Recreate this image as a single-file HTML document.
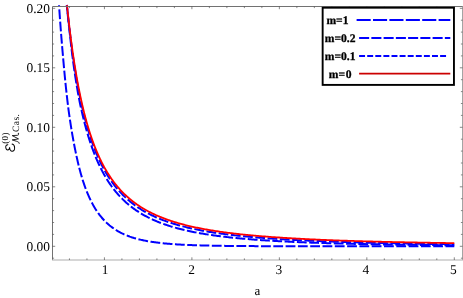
<!DOCTYPE html>
<html><head><meta charset="utf-8"><title>plot</title>
<style>html,body{margin:0;padding:0;background:#fff;}body{width:463px;height:298px;position:relative;overflow:hidden;font-family:"Liberation Serif",serif;}</style></head>
<body>
<svg width="463" height="298" viewBox="0 0 463 298" style="position:absolute;left:0;top:0;text-rendering:geometricPrecision;will-change:transform">
<rect width="463" height="298" fill="#fff"/>
<g fill="none" stroke-width="2" stroke-linecap="butt" stroke-linejoin="round">
<path d="M59.03 5.20 L59.03 5.24 L59.04 5.35 L59.05 5.53 L59.07 5.79 L59.09 6.12 L59.12 6.53 L59.15 7.01 L59.19 7.56 L59.23 8.18 L59.28 8.87 L59.33 9.63 L59.39 10.47 L59.45 11.36 L59.52 12.33 L59.59 13.36 L59.66 14.46 L59.75 15.62 L59.83 16.84 L59.92 18.13 L60.02 19.47 L60.12 20.87 L60.23 22.33 L60.34 23.85 L60.46 25.41 L60.58 27.03 L60.70 28.70 L60.84 30.42 L60.97 32.18 L61.11 33.99 L61.26 35.84 L61.41 37.74 L61.57 39.67 L61.73 41.64 L61.89 43.65 L62.06 45.69 L62.24 47.77 L62.42 49.87 L62.61 52.01 L62.80 54.17 L62.99 56.35 L63.19 58.56 L63.39 60.79 L63.59 63.04 L63.79 65.30 L63.99 67.59 L64.20 69.88 L64.41 72.19 L64.63 74.51 L64.86 76.84 L65.08 79.18 L65.32 81.53 L65.56 83.88 L65.80 86.23 L66.05 88.58 L66.30 90.93 L66.56 93.29 L66.82 95.64 L67.09 97.98 L67.36 100.32 L67.64 102.66 L67.93 104.98 L68.21 107.30 L68.51 109.61 L68.82 111.91 L69.14 114.19 L69.46 116.46 L69.79 118.72 L70.13 120.96 L70.47 123.19 L70.81 125.40 L71.16 127.60 L71.51 129.77 L71.87 131.93 L72.23 134.07 L72.60 136.18 L72.98 138.28 L73.36 140.36 L73.74 142.41 L74.13 144.44 L74.52 146.45 L74.92 148.43 L75.32 150.40 L75.71 152.34 L76.11 154.25 L76.51 156.14 L76.92 158.00 L77.33 159.84 L77.75 161.66 L78.17 163.45 L78.60 165.21 L79.03 166.95 L79.47 168.67 L79.91 170.35 L80.36 172.02 L80.82 173.65 L81.28 175.26 L81.74 176.85 L82.21 178.41 L82.68 179.94 L83.16 181.45 L83.65 182.93 L84.14 184.39 L84.64 185.82 L85.14 187.23 L85.66 188.61 L86.17 189.96 L86.70 191.29 L87.23 192.60 L87.76 193.88 L88.30 195.14 L88.84 196.38 L89.39 197.59 L89.94 198.78 L90.50 199.94 L91.06 201.08 L91.63 202.20 L92.20 203.30 L92.78 204.37 L93.36 205.42 L93.95 206.45 L94.54 207.46 L95.14 208.45 L95.75 209.42 L96.35 210.36 L96.97 211.29 L97.59 212.20 L98.21 213.08 L98.84 213.95 L99.47 214.80 L100.11 215.63 L100.76 216.44 L101.41 217.23 L102.06 218.00 L102.72 218.76 L103.39 219.50 L104.06 220.22 L104.74 220.93 L105.42 221.62 L106.10 222.29 L106.79 222.95 L107.49 223.59 L108.19 224.21 L108.89 224.82 L109.60 225.42 L110.32 226.00 L111.04 226.57 L111.77 227.12 L112.50 227.66 L113.23 228.19 L113.97 228.70 L114.72 229.20 L115.47 229.69 L116.22 230.17 L116.98 230.63 L117.75 231.08 L118.52 231.52 L119.29 231.95 L120.07 232.37 L120.85 232.78 L121.64 233.18 L122.44 233.56 L123.24 233.94 L124.04 234.30 L124.85 234.66 L125.67 235.01 L126.49 235.34 L127.31 235.67 L128.14 235.99 L128.97 236.30 L129.81 236.61 L130.66 236.90 L131.50 237.19 L132.36 237.46 L133.22 237.73 L134.08 238.00 L134.95 238.25 L135.82 238.50 L136.70 238.74 L137.59 238.98 L138.47 239.21 L139.37 239.43 L140.27 239.64 L141.17 239.85 L142.08 240.06 L142.99 240.25 L143.91 240.45 L144.83 240.63 L145.76 240.81 L146.69 240.99 L147.63 241.16 L148.58 241.32 L149.52 241.48 L150.48 241.64 L151.43 241.79 L152.40 241.94 L153.36 242.08 L154.34 242.22 L155.32 242.35 L156.30 242.48 L157.29 242.61 L158.28 242.73 L159.28 242.85 L160.28 242.96 L161.29 243.07 L162.30 243.18 L163.31 243.29 L164.34 243.39 L165.36 243.49 L166.40 243.58 L167.43 243.67 L168.48 243.76 L169.52 243.85 L170.57 243.93 L171.63 244.01 L172.69 244.09 L173.76 244.17 L174.83 244.24 L175.91 244.31 L176.99 244.38 L178.08 244.45 L179.17 244.51 L180.26 244.57 L181.37 244.63 L182.47 244.69 L183.58 244.75 L184.70 244.80 L185.82 244.86 L186.95 244.91 L188.08 244.96 L189.21 245.01 L190.36 245.05 L191.50 245.10 L192.65 245.14 L193.81 245.18 L194.97 245.22 L196.13 245.26 L197.31 245.30 L198.48 245.33 L199.66 245.37 L200.85 245.40 L202.04 245.44 L203.23 245.47 L204.43 245.50 L205.64 245.53 L206.85 245.56 L208.06 245.58 L209.28 245.61 L210.51 245.64 L211.74 245.66 L212.98 245.68 L214.22 245.71 L215.46 245.73 L216.71 245.75 L217.96 245.77 L219.22 245.79 L220.49 245.81 L221.76 245.83 L223.03 245.85 L224.31 245.86 L225.60 245.88 L226.89 245.90 L228.18 245.91 L229.48 245.93 L230.79 245.94 L232.10 245.96 L233.41 245.97 L234.73 245.98 L236.05 245.99 L237.38 246.01 L238.72 246.02 L240.06 246.03 L241.40 246.04 L242.75 246.05 L244.10 246.06 L245.46 246.07 L246.82 246.08 L248.19 246.09 L249.57 246.10 L250.95 246.10 L252.33 246.11 L253.72 246.12 L255.11 246.13 L256.51 246.13 L257.91 246.14 L259.32 246.15 L260.73 246.15 L262.15 246.16 L263.58 246.16 L265.00 246.17 L266.44 246.18 L267.88 246.18 L269.32 246.19 L270.77 246.19 L272.22 246.19 L273.68 246.20 L275.14 246.20 L276.61 246.21 L278.08 246.21 L279.56 246.21 L281.04 246.22 L282.53 246.22 L284.02 246.22 L285.52 246.23 L287.02 246.23 L288.53 246.23 L290.04 246.24 L291.56 246.24 L293.08 246.24 L294.61 246.24 L296.14 246.25 L297.68 246.25 L299.22 246.25 L300.76 246.25 L302.32 246.26 L303.87 246.26 L305.44 246.26 L307.00 246.26 L308.57 246.26 L310.15 246.26 L311.73 246.27 L313.32 246.27 L314.91 246.27 L316.51 246.27 L318.11 246.27 L319.71 246.27 L321.33 246.27 L322.94 246.28 L324.56 246.28 L326.19 246.28 L327.82 246.28 L329.46 246.28 L331.10 246.28 L332.74 246.28 L334.39 246.28 L336.05 246.28 L337.71 246.28 L339.38 246.28 L341.05 246.28 L342.72 246.29 L344.40 246.29 L346.09 246.29 L347.78 246.29 L349.47 246.29 L351.18 246.29 L352.88 246.29 L354.59 246.29 L356.31 246.29 L358.03 246.29 L359.75 246.29 L361.48 246.29 L363.22 246.29 L364.96 246.29 L366.70 246.29 L368.45 246.29 L370.21 246.29 L371.97 246.29 L373.73 246.29 L375.50 246.29 L377.28 246.29 L379.05 246.29 L380.84 246.29 L382.63 246.30 L384.42 246.30 L386.22 246.30 L388.03 246.30 L389.84 246.30 L391.65 246.30 L393.47 246.30 L395.29 246.30 L397.12 246.30 L398.96 246.30 L400.80 246.30 L402.64 246.30 L404.49 246.30 L406.34 246.30 L408.20 246.30 L410.07 246.30 L411.93 246.30 L413.81 246.30 L415.69 246.30 L417.57 246.30 L419.46 246.30 L421.35 246.30 L423.25 246.30 L425.15 246.30 L427.06 246.30 L428.98 246.30 L430.89 246.30 L432.82 246.30 L434.74 246.30 L436.68 246.30 L438.62 246.30 L440.56 246.30 L442.51 246.30 L444.46 246.30 L446.42 246.30 L448.38 246.30 L450.35 246.30 L452.32 246.30 L454.30 246.30" stroke="#0000ff" stroke-dasharray="9.8 2.5" stroke-dashoffset="8.1"/>
<path d="M66.78 5.20 L66.79 5.22 L66.79 5.30 L66.81 5.42 L66.82 5.59 L66.84 5.82 L66.87 6.09 L66.90 6.40 L66.94 6.77 L66.98 7.19 L67.03 7.65 L67.08 8.16 L67.13 8.71 L67.19 9.32 L67.26 9.96 L67.33 10.66 L67.41 11.39 L67.49 12.18 L67.57 13.00 L67.66 13.87 L67.75 14.78 L67.85 15.73 L67.96 16.72 L68.07 17.75 L68.18 18.81 L68.30 19.92 L68.42 21.06 L68.55 22.24 L68.69 23.46 L68.83 24.70 L68.97 25.99 L69.12 27.30 L69.27 28.64 L69.43 30.02 L69.57 31.42 L69.72 32.85 L69.88 34.31 L70.04 35.80 L70.21 37.30 L70.37 38.84 L70.55 40.39 L70.73 41.97 L70.91 43.57 L71.10 45.19 L71.29 46.83 L71.49 48.48 L71.69 50.15 L71.90 51.84 L72.11 53.54 L72.32 55.26 L72.54 56.99 L72.77 58.73 L73.00 60.48 L73.23 62.24 L73.47 64.01 L73.72 65.78 L73.97 67.57 L74.22 69.36 L74.48 71.15 L74.74 72.95 L75.01 74.75 L75.28 76.56 L75.56 78.36 L75.84 80.17 L76.13 81.98 L76.42 83.79 L76.72 85.59 L77.02 87.40 L77.33 89.20 L77.64 90.99 L77.96 92.79 L78.28 94.58 L78.61 96.36 L78.94 98.14 L79.28 99.91 L79.64 101.68 L80.00 103.44 L80.37 105.19 L80.75 106.93 L81.13 108.66 L81.52 110.38 L81.91 112.09 L82.30 113.80 L82.70 115.49 L83.11 117.17 L83.52 118.84 L83.93 120.50 L84.35 122.15 L84.78 123.78 L85.21 125.40 L85.64 127.01 L86.08 128.61 L86.53 130.19 L86.97 131.76 L87.43 133.31 L87.89 134.85 L88.35 136.38 L88.82 137.89 L89.29 139.39 L89.77 140.88 L90.25 142.34 L90.74 143.80 L91.23 145.24 L91.73 146.66 L92.23 148.07 L92.74 149.47 L93.25 150.85 L93.77 152.21 L94.29 153.56 L94.82 154.89 L95.35 156.21 L95.89 157.52 L96.43 158.81 L96.97 160.08 L97.52 161.34 L98.08 162.58 L98.64 163.81 L99.21 165.02 L99.78 166.22 L100.35 167.40 L100.93 168.57 L101.52 169.72 L102.11 170.86 L102.70 171.98 L103.30 173.09 L103.91 174.19 L104.51 175.27 L105.13 176.33 L105.75 177.38 L106.37 178.42 L107.00 179.44 L107.63 180.45 L108.27 181.45 L108.91 182.43 L109.56 183.40 L110.22 184.35 L110.87 185.29 L111.54 186.22 L112.20 187.14 L112.88 188.04 L113.55 188.93 L114.23 189.81 L114.92 190.67 L115.61 191.52 L116.31 192.36 L117.01 193.19 L117.72 194.00 L118.43 194.81 L119.14 195.60 L119.86 196.38 L120.59 197.15 L121.32 197.90 L122.06 198.65 L122.80 199.38 L123.54 200.11 L124.29 200.82 L125.05 201.52 L125.81 202.22 L126.57 202.90 L127.34 203.57 L128.11 204.23 L128.89 204.88 L129.68 205.52 L130.47 206.15 L131.26 206.77 L132.06 207.39 L132.86 207.99 L133.67 208.58 L134.48 209.17 L135.30 209.74 L136.12 210.31 L136.95 210.87 L137.78 211.42 L138.62 211.96 L139.46 212.49 L140.31 213.02 L141.16 213.53 L142.02 214.04 L142.88 214.54 L143.75 215.03 L144.62 215.52 L145.49 216.00 L146.37 216.47 L147.26 216.93 L148.15 217.39 L149.05 217.83 L149.95 218.28 L150.85 218.71 L151.76 219.14 L152.68 219.56 L153.60 219.97 L154.52 220.38 L155.45 220.78 L156.39 221.18 L157.33 221.57 L158.27 221.95 L159.22 222.33 L160.17 222.70 L161.13 223.06 L162.09 223.42 L163.06 223.78 L164.04 224.13 L165.01 224.47 L166.00 224.81 L166.98 225.14 L167.98 225.46 L168.97 225.79 L169.98 226.10 L170.98 226.42 L172.00 226.72 L173.01 227.02 L174.03 227.32 L175.06 227.61 L176.09 227.90 L177.13 228.19 L178.17 228.47 L179.22 228.74 L180.27 229.01 L181.32 229.28 L182.38 229.54 L183.45 229.80 L184.52 230.05 L185.59 230.30 L186.67 230.55 L187.76 230.79 L188.85 231.03 L189.94 231.26 L191.04 231.49 L192.15 231.72 L193.26 231.94 L194.37 232.16 L195.49 232.38 L196.61 232.60 L197.74 232.81 L198.87 233.01 L200.01 233.22 L201.16 233.42 L202.30 233.61 L203.46 233.81 L204.61 234.00 L205.78 234.19 L206.94 234.37 L208.12 234.56 L209.29 234.73 L210.48 234.91 L211.66 235.09 L212.85 235.26 L214.05 235.43 L215.25 235.59 L216.46 235.76 L217.67 235.92 L218.89 236.08 L220.11 236.23 L221.33 236.38 L222.56 236.54 L223.80 236.69 L225.04 236.83 L226.28 236.98 L227.53 237.12 L228.79 237.26 L230.05 237.40 L231.31 237.53 L232.58 237.67 L233.85 237.80 L235.13 237.93 L236.42 238.05 L237.71 238.18 L239.00 238.30 L240.30 238.42 L241.60 238.54 L242.91 238.66 L244.22 238.78 L245.54 238.89 L246.86 239.01 L248.19 239.12 L249.52 239.23 L250.86 239.33 L252.20 239.44 L253.55 239.54 L254.90 239.65 L256.26 239.75 L257.62 239.85 L258.99 239.94 L260.36 240.04 L261.73 240.14 L263.11 240.23 L264.50 240.32 L265.89 240.41 L267.29 240.50 L268.69 240.59 L270.09 240.68 L271.50 240.76 L272.92 240.85 L274.34 240.93 L275.76 241.01 L277.19 241.09 L278.62 241.17 L280.06 241.25 L281.51 241.33 L282.96 241.40 L284.41 241.48 L285.87 241.55 L287.33 241.62 L288.80 241.69 L290.27 241.76 L291.75 241.83 L293.24 241.90 L294.72 241.97 L296.22 242.03 L297.71 242.10 L299.22 242.16 L300.72 242.22 L302.23 242.28 L303.75 242.35 L305.27 242.41 L306.80 242.47 L308.33 242.52 L309.87 242.58 L311.41 242.64 L312.95 242.69 L314.50 242.75 L316.06 242.80 L317.62 242.86 L319.19 242.91 L320.76 242.96 L322.33 243.01 L323.91 243.06 L325.50 243.11 L327.09 243.16 L328.68 243.21 L330.28 243.25 L331.88 243.30 L333.49 243.35 L335.11 243.39 L336.73 243.43 L338.35 243.48 L339.98 243.52 L341.61 243.56 L343.25 243.61 L344.89 243.65 L346.54 243.69 L348.19 243.73 L349.85 243.77 L351.51 243.81 L353.18 243.84 L354.85 243.88 L356.53 243.92 L358.21 243.95 L359.90 243.99 L361.59 244.03 L363.29 244.06 L364.99 244.09 L366.69 244.13 L368.41 244.16 L370.12 244.19 L371.84 244.23 L373.57 244.26 L375.30 244.29 L377.03 244.32 L378.77 244.35 L380.52 244.38 L382.27 244.41 L384.02 244.44 L385.78 244.47 L387.55 244.50 L389.32 244.52 L391.09 244.55 L392.87 244.58 L394.65 244.61 L396.44 244.63 L398.24 244.66 L400.03 244.68 L401.84 244.71 L403.64 244.73 L405.46 244.76 L407.28 244.78 L409.10 244.80 L410.93 244.83 L412.76 244.85 L414.60 244.87 L416.44 244.89 L418.28 244.92 L420.14 244.94 L421.99 244.96 L423.85 244.98 L425.72 245.00 L427.59 245.02 L429.47 245.04 L431.35 245.06 L433.23 245.08 L435.12 245.10 L437.02 245.12 L438.92 245.13 L440.83 245.15 L442.74 245.17 L444.65 245.19 L446.57 245.21 L448.50 245.22 L450.42 245.24 L452.36 245.26 L454.30 245.27" stroke="#0000ff" stroke-dasharray="9.8 2.5" stroke-dashoffset="4.9"/>
<path d="M66.85 5.20 L66.86 5.22 L66.86 5.30 L66.88 5.41 L66.89 5.58 L66.92 5.79 L66.94 6.05 L66.97 6.36 L67.01 6.71 L67.05 7.11 L67.10 7.56 L67.15 8.05 L67.20 8.59 L67.26 9.17 L67.33 9.79 L67.40 10.46 L67.47 11.17 L67.55 11.93 L67.64 12.72 L67.73 13.56 L67.82 14.44 L67.92 15.35 L68.03 16.31 L68.14 17.30 L68.25 18.33 L68.37 19.40 L68.49 20.50 L68.62 21.64 L68.75 22.82 L68.89 24.02 L69.04 25.26 L69.18 26.53 L69.34 27.83 L69.49 29.15 L69.65 30.51 L69.82 31.90 L69.98 33.31 L70.16 34.74 L70.34 36.20 L70.52 37.69 L70.70 39.19 L70.90 40.72 L71.09 42.27 L71.29 43.84 L71.50 45.42 L71.71 47.03 L71.93 48.65 L72.15 50.28 L72.37 51.93 L72.60 53.60 L72.84 55.27 L73.08 56.96 L73.32 58.66 L73.57 60.37 L73.83 62.09 L74.09 63.81 L74.35 65.54 L74.62 67.28 L74.89 69.03 L75.17 70.78 L75.46 72.53 L75.74 74.28 L76.04 76.04 L76.33 77.80 L76.64 79.56 L76.94 81.32 L77.26 83.08 L77.57 84.84 L77.90 86.60 L78.22 88.35 L78.55 90.10 L78.89 91.84 L79.23 93.59 L79.58 95.32 L79.93 97.05 L80.29 98.78 L80.65 100.49 L81.02 102.20 L81.39 103.91 L81.78 105.60 L82.16 107.29 L82.55 108.96 L82.95 110.63 L83.35 112.29 L83.75 113.93 L84.16 115.57 L84.57 117.20 L84.99 118.81 L85.42 120.41 L85.85 122.01 L86.28 123.59 L86.72 125.15 L87.16 126.71 L87.61 128.25 L88.06 129.78 L88.52 131.29 L88.98 132.80 L89.45 134.28 L89.92 135.76 L90.40 137.22 L90.88 138.67 L91.37 140.10 L91.86 141.52 L92.36 142.93 L92.86 144.32 L93.37 145.69 L93.88 147.06 L94.39 148.40 L94.91 149.74 L95.44 151.06 L95.97 152.36 L96.51 153.65 L97.05 154.93 L97.59 156.19 L98.14 157.43 L98.70 158.66 L99.26 159.88 L99.82 161.08 L100.39 162.27 L100.96 163.45 L101.54 164.61 L102.13 165.75 L102.72 166.88 L103.31 168.00 L103.91 169.10 L104.51 170.19 L105.12 171.27 L105.73 172.33 L106.35 173.38 L106.97 174.41 L107.60 175.43 L108.23 176.44 L108.87 177.43 L109.51 178.41 L110.16 179.38 L110.81 180.33 L111.47 181.27 L112.13 182.20 L112.79 183.12 L113.46 184.02 L114.14 184.91 L114.82 185.79 L115.51 186.66 L116.20 187.51 L116.89 188.36 L117.59 189.19 L118.30 190.00 L119.01 190.81 L119.72 191.61 L120.44 192.39 L121.17 193.17 L121.90 193.93 L122.63 194.68 L123.37 195.42 L124.11 196.15 L124.86 196.87 L125.62 197.58 L126.37 198.28 L127.14 198.97 L127.90 199.65 L128.68 200.32 L129.46 200.98 L130.24 201.63 L131.03 202.27 L131.82 202.90 L132.61 203.52 L133.42 204.13 L134.22 204.73 L135.03 205.33 L135.85 205.91 L136.67 206.49 L137.50 207.06 L138.33 207.62 L139.17 208.17 L140.01 208.71 L140.85 209.25 L141.70 209.78 L142.56 210.29 L143.42 210.81 L144.28 211.31 L145.15 211.81 L146.03 212.30 L146.91 212.78 L147.79 213.25 L148.68 213.72 L149.57 214.18 L150.47 214.64 L151.38 215.08 L152.28 215.52 L153.20 215.96 L154.12 216.38 L155.04 216.80 L155.97 217.22 L156.90 217.63 L157.84 218.03 L158.78 218.43 L159.73 218.82 L160.68 219.20 L161.64 219.58 L162.60 219.95 L163.57 220.32 L164.54 220.68 L165.51 221.04 L166.49 221.39 L167.48 221.73 L168.47 222.08 L169.47 222.41 L170.47 222.74 L171.47 223.07 L172.48 223.39 L173.50 223.70 L174.52 224.02 L175.54 224.32 L176.57 224.63 L177.61 224.92 L178.65 225.22 L179.69 225.51 L180.74 225.79 L181.79 226.07 L182.85 226.35 L183.92 226.62 L184.99 226.89 L186.06 227.15 L187.14 227.41 L188.22 227.67 L189.31 227.92 L190.40 228.17 L191.50 228.42 L192.60 228.66 L193.71 228.90 L194.82 229.13 L195.94 229.36 L197.06 229.59 L198.18 229.81 L199.32 230.04 L200.45 230.25 L201.59 230.47 L202.74 230.68 L203.89 230.89 L205.05 231.09 L206.21 231.30 L207.37 231.50 L208.54 231.69 L209.72 231.89 L210.90 232.08 L212.08 232.27 L213.27 232.45 L214.47 232.64 L215.66 232.82 L216.87 232.99 L218.08 233.17 L219.29 233.34 L220.51 233.51 L221.73 233.68 L222.96 233.85 L224.20 234.01 L225.43 234.17 L226.68 234.33 L227.92 234.48 L229.18 234.64 L230.43 234.79 L231.70 234.94 L232.96 235.09 L234.24 235.23 L235.51 235.38 L236.79 235.52 L238.08 235.66 L239.37 235.79 L240.67 235.93 L241.97 236.06 L243.27 236.19 L244.59 236.32 L245.90 236.45 L247.22 236.58 L248.55 236.70 L249.88 236.83 L251.21 236.95 L252.55 237.07 L253.90 237.18 L255.25 237.30 L256.60 237.41 L257.96 237.53 L259.32 237.64 L260.69 237.75 L262.07 237.86 L263.44 237.96 L264.83 238.07 L266.22 238.17 L267.61 238.27 L269.01 238.38 L270.41 238.48 L271.82 238.57 L273.23 238.67 L274.65 238.77 L276.07 238.86 L277.50 238.95 L278.93 239.05 L280.36 239.14 L281.81 239.23 L283.25 239.31 L284.70 239.40 L286.16 239.49 L287.62 239.57 L289.09 239.65 L290.56 239.74 L292.03 239.82 L293.51 239.90 L295.00 239.98 L296.49 240.05 L297.98 240.13 L299.48 240.21 L300.99 240.28 L302.50 240.36 L304.01 240.43 L305.53 240.50 L307.05 240.57 L308.58 240.64 L310.12 240.71 L311.65 240.78 L313.20 240.85 L314.75 240.91 L316.30 240.98 L317.86 241.04 L319.42 241.11 L320.99 241.17 L322.56 241.23 L324.14 241.30 L325.72 241.36 L327.31 241.42 L328.90 241.48 L330.49 241.53 L332.10 241.59 L333.70 241.65 L335.31 241.70 L336.93 241.76 L338.55 241.81 L340.18 241.87 L341.81 241.92 L343.44 241.97 L345.08 242.03 L346.73 242.08 L348.38 242.13 L350.03 242.18 L351.69 242.23 L353.36 242.28 L355.02 242.32 L356.70 242.37 L358.38 242.42 L360.06 242.46 L361.75 242.51 L363.44 242.55 L365.14 242.60 L366.85 242.64 L368.55 242.69 L370.27 242.73 L371.98 242.77 L373.71 242.81 L375.43 242.85 L377.17 242.89 L378.90 242.94 L380.65 242.97 L382.39 243.01 L384.14 243.05 L385.90 243.09 L387.66 243.13 L389.43 243.17 L391.20 243.20 L392.98 243.24 L394.76 243.28 L396.54 243.31 L398.33 243.35 L400.13 243.38 L401.93 243.41 L403.73 243.45 L405.54 243.48 L407.36 243.51 L409.18 243.55 L411.00 243.58 L412.83 243.61 L414.66 243.64 L416.50 243.67 L418.35 243.70 L420.20 243.73 L422.05 243.76 L423.91 243.79 L425.77 243.82 L427.64 243.85 L429.51 243.88 L431.39 243.91 L433.27 243.94 L435.16 243.96 L437.05 243.99 L438.95 244.02 L440.85 244.04 L442.76 244.07 L444.67 244.09 L446.58 244.12 L448.51 244.15 L450.43 244.17 L452.36 244.19 L454.30 244.22" stroke="#0000ff" stroke-dasharray="9.8 2.5" stroke-dashoffset="1.3"/>
<path d="M66.97 5.20 L66.98 5.22 L66.98 5.29 L67.00 5.41 L67.01 5.57 L67.03 5.78 L67.06 6.04 L67.09 6.34 L67.13 6.69 L67.17 7.08 L67.22 7.52 L67.27 8.00 L67.32 8.53 L67.38 9.10 L67.45 9.71 L67.52 10.37 L67.59 11.07 L67.67 11.81 L67.76 12.59 L67.85 13.41 L67.94 14.27 L68.04 15.17 L68.15 16.11 L68.25 17.09 L68.37 18.10 L68.49 19.15 L68.61 20.24 L68.74 21.36 L68.87 22.51 L69.01 23.69 L69.15 24.91 L69.30 26.16 L69.45 27.43 L69.61 28.74 L69.77 30.08 L69.94 31.44 L70.11 32.82 L70.29 34.24 L70.47 35.67 L70.66 37.13 L70.85 38.62 L71.04 40.12 L71.24 41.64 L71.45 43.19 L71.66 44.75 L71.88 46.32 L72.10 47.92 L72.32 49.53 L72.55 51.15 L72.79 52.79 L73.03 54.44 L73.27 56.11 L73.52 57.78 L73.77 59.46 L74.03 61.15 L74.30 62.86 L74.57 64.56 L74.84 66.28 L75.12 68.00 L75.40 69.72 L75.69 71.45 L75.98 73.18 L76.28 74.91 L76.58 76.65 L76.89 78.38 L77.20 80.12 L77.52 81.86 L77.84 83.59 L78.17 85.32 L78.50 87.06 L78.84 88.78 L79.18 90.51 L79.52 92.23 L79.87 93.94 L80.23 95.65 L80.59 97.35 L80.96 99.05 L81.33 100.74 L81.70 102.42 L82.08 104.10 L82.47 105.76 L82.86 107.42 L83.25 109.07 L83.65 110.71 L84.05 112.34 L84.46 113.96 L84.88 115.56 L85.30 117.16 L85.72 118.75 L86.15 120.32 L86.58 121.89 L87.02 123.44 L87.46 124.98 L87.91 126.50 L88.36 128.02 L88.82 129.52 L89.28 131.01 L89.75 132.48 L90.22 133.95 L90.70 135.39 L91.18 136.83 L91.67 138.25 L92.16 139.66 L92.66 141.05 L93.16 142.43 L93.66 143.80 L94.17 145.15 L94.69 146.49 L95.21 147.81 L95.74 149.12 L96.27 150.41 L96.80 151.69 L97.34 152.96 L97.88 154.21 L98.43 155.45 L98.99 156.68 L99.55 157.89 L100.11 159.08 L100.68 160.26 L101.25 161.43 L101.83 162.58 L102.42 163.72 L103.00 164.85 L103.60 165.96 L104.20 167.06 L104.80 168.14 L105.41 169.21 L106.02 170.27 L106.64 171.31 L107.26 172.34 L107.88 173.36 L108.52 174.36 L109.15 175.35 L109.79 176.33 L110.44 177.29 L111.09 178.24 L111.75 179.18 L112.41 180.11 L113.08 181.02 L113.75 181.92 L114.42 182.81 L115.10 183.69 L115.79 184.55 L116.48 185.41 L117.17 186.25 L117.87 187.08 L118.58 187.90 L119.28 188.70 L120.00 189.50 L120.72 190.28 L121.44 191.06 L122.17 191.82 L122.90 192.57 L123.64 193.31 L124.38 194.04 L125.13 194.76 L125.89 195.47 L126.64 196.17 L127.41 196.86 L128.17 197.54 L128.95 198.21 L129.72 198.87 L130.50 199.52 L131.29 200.17 L132.08 200.80 L132.88 201.42 L133.68 202.04 L134.49 202.64 L135.30 203.24 L136.11 203.83 L136.93 204.40 L137.76 204.97 L138.59 205.54 L139.43 206.09 L140.27 206.64 L141.11 207.18 L141.96 207.71 L142.81 208.23 L143.67 208.74 L144.54 209.25 L145.41 209.75 L146.28 210.24 L147.16 210.73 L148.04 211.20 L148.93 211.68 L149.82 212.14 L150.72 212.60 L151.63 213.05 L152.53 213.49 L153.45 213.93 L154.36 214.36 L155.29 214.78 L156.21 215.20 L157.15 215.61 L158.08 216.02 L159.02 216.42 L159.97 216.81 L160.92 217.20 L161.88 217.59 L162.84 217.96 L163.80 218.33 L164.78 218.70 L165.75 219.06 L166.73 219.42 L167.72 219.77 L168.71 220.11 L169.70 220.45 L170.70 220.79 L171.71 221.12 L172.72 221.44 L173.73 221.76 L174.75 222.08 L175.77 222.39 L176.80 222.70 L177.84 223.00 L178.87 223.30 L179.92 223.59 L180.97 223.88 L182.02 224.17 L183.08 224.45 L184.14 224.72 L185.21 225.00 L186.28 225.27 L187.36 225.53 L188.44 225.79 L189.53 226.05 L190.62 226.30 L191.71 226.55 L192.82 226.80 L193.92 227.04 L195.03 227.28 L196.15 227.52 L197.27 227.75 L198.40 227.98 L199.53 228.21 L200.66 228.43 L201.80 228.65 L202.95 228.87 L204.10 229.08 L205.25 229.29 L206.41 229.50 L207.57 229.70 L208.74 229.90 L209.92 230.10 L211.10 230.30 L212.28 230.49 L213.47 230.68 L214.66 230.87 L215.86 231.06 L217.06 231.24 L218.27 231.42 L219.49 231.60 L220.70 231.77 L221.93 231.95 L223.15 232.12 L224.38 232.28 L225.62 232.45 L226.86 232.61 L228.11 232.77 L229.36 232.93 L230.62 233.09 L231.88 233.24 L233.15 233.40 L234.42 233.55 L235.69 233.70 L236.97 233.84 L238.26 233.99 L239.55 234.13 L240.84 234.27 L242.14 234.41 L243.45 234.54 L244.76 234.68 L246.07 234.81 L247.39 234.94 L248.72 235.07 L250.04 235.20 L251.38 235.33 L252.72 235.45 L254.06 235.57 L255.41 235.69 L256.76 235.81 L258.12 235.93 L259.48 236.05 L260.85 236.16 L262.22 236.28 L263.60 236.39 L264.98 236.50 L266.37 236.61 L267.76 236.71 L269.16 236.82 L270.56 236.92 L271.97 237.03 L273.38 237.13 L274.80 237.23 L276.22 237.33 L277.64 237.43 L279.07 237.52 L280.51 237.62 L281.95 237.71 L283.39 237.81 L284.84 237.90 L286.30 237.99 L287.76 238.08 L289.22 238.17 L290.69 238.25 L292.17 238.34 L293.65 238.42 L295.13 238.51 L296.62 238.59 L298.11 238.67 L299.61 238.75 L301.11 238.83 L302.62 238.91 L304.13 238.99 L305.65 239.06 L307.18 239.14 L308.70 239.22 L310.24 239.29 L311.77 239.36 L313.31 239.43 L314.86 239.51 L316.41 239.58 L317.97 239.64 L319.53 239.71 L321.10 239.78 L322.67 239.85 L324.24 239.91 L325.82 239.98 L327.41 240.04 L329.00 240.11 L330.60 240.17 L332.20 240.23 L333.80 240.29 L335.41 240.35 L337.03 240.41 L338.65 240.47 L340.27 240.53 L341.90 240.59 L343.53 240.65 L345.17 240.70 L346.82 240.76 L348.46 240.81 L350.12 240.87 L351.78 240.92 L353.44 240.97 L355.11 241.03 L356.78 241.08 L358.46 241.13 L360.14 241.18 L361.83 241.23 L363.52 241.28 L365.22 241.33 L366.92 241.38 L368.62 241.42 L370.34 241.47 L372.05 241.52 L373.77 241.56 L375.50 241.61 L377.23 241.65 L378.97 241.70 L380.71 241.74 L382.45 241.79 L384.20 241.83 L385.96 241.87 L387.72 241.91 L389.48 241.95 L391.25 242.00 L393.03 242.04 L394.81 242.08 L396.59 242.12 L398.38 242.15 L400.17 242.19 L401.97 242.23 L403.77 242.27 L405.58 242.31 L407.40 242.34 L409.21 242.38 L411.04 242.42 L412.86 242.45 L414.70 242.49 L416.53 242.52 L418.38 242.56 L420.22 242.59 L422.08 242.63 L423.93 242.66 L425.79 242.69 L427.66 242.72 L429.53 242.76 L431.41 242.79 L433.29 242.82 L435.17 242.85 L437.06 242.88 L438.96 242.91 L440.86 242.94 L442.77 242.97 L444.68 243.00 L446.59 243.03 L448.51 243.06 L450.43 243.09 L452.36 243.12 L454.30 243.15" stroke="#ff0000" stroke-width="1.8"/>
</g>
<g stroke="#727272" stroke-width="1" fill="none">
<path d="M52.50 260.00 V6.50 H463.00"/>
<path d="M462.50 6.50 V260.00" stroke="#a4a4a4"/>
<path d="M52.00 260.00 H463.00" stroke="#adadad"/>
</g>
<path d="M69.44 260.00 v-1.60 M69.44 6.50 v1.60 M86.94 260.00 v-1.60 M86.94 6.50 v1.60 M104.43 260.00 v-2.70 M104.43 6.50 v2.70 M121.92 260.00 v-1.60 M121.92 6.50 v1.60 M139.42 260.00 v-1.60 M139.42 6.50 v1.60 M156.91 260.00 v-1.60 M156.91 6.50 v1.60 M174.40 260.00 v-1.60 M174.40 6.50 v1.60 M191.90 260.00 v-2.70 M191.90 6.50 v2.70 M209.39 260.00 v-1.60 M209.39 6.50 v1.60 M226.88 260.00 v-1.60 M226.88 6.50 v1.60 M244.38 260.00 v-1.60 M244.38 6.50 v1.60 M261.87 260.00 v-1.60 M261.87 6.50 v1.60 M279.36 260.00 v-2.70 M279.36 6.50 v2.70 M296.86 260.00 v-1.60 M296.86 6.50 v1.60 M314.35 260.00 v-1.60 M314.35 6.50 v1.60 M331.84 260.00 v-1.60 M331.84 6.50 v1.60 M349.34 260.00 v-1.60 M349.34 6.50 v1.60 M366.83 260.00 v-2.70 M366.83 6.50 v2.70 M384.32 260.00 v-1.60 M384.32 6.50 v1.60 M401.82 260.00 v-1.60 M401.82 6.50 v1.60 M419.31 260.00 v-1.60 M419.31 6.50 v1.60 M436.80 260.00 v-1.60 M436.80 6.50 v1.60 M454.30 260.00 v-2.70 M454.30 6.50 v2.70 M52.50 258.20 h1.60 M462.50 258.20 h-1.60 M52.50 246.30 h2.70 M462.50 246.30 h-2.70 M52.50 234.40 h1.60 M462.50 234.40 h-1.60 M52.50 222.50 h1.60 M462.50 222.50 h-1.60 M52.50 210.60 h1.60 M462.50 210.60 h-1.60 M52.50 198.70 h1.60 M462.50 198.70 h-1.60 M52.50 186.80 h2.70 M462.50 186.80 h-2.70 M52.50 174.90 h1.60 M462.50 174.90 h-1.60 M52.50 163.00 h1.60 M462.50 163.00 h-1.60 M52.50 151.10 h1.60 M462.50 151.10 h-1.60 M52.50 139.20 h1.60 M462.50 139.20 h-1.60 M52.50 127.30 h2.70 M462.50 127.30 h-2.70 M52.50 115.40 h1.60 M462.50 115.40 h-1.60 M52.50 103.50 h1.60 M462.50 103.50 h-1.60 M52.50 91.60 h1.60 M462.50 91.60 h-1.60 M52.50 79.70 h1.60 M462.50 79.70 h-1.60 M52.50 67.80 h2.70 M462.50 67.80 h-2.70 M52.50 55.90 h1.60 M462.50 55.90 h-1.60 M52.50 44.00 h1.60 M462.50 44.00 h-1.60 M52.50 32.10 h1.60 M462.50 32.10 h-1.60 M52.50 20.20 h1.60 M462.50 20.20 h-1.60 M52.50 8.30 h2.70 M462.50 8.30 h-2.70" stroke="#484848" stroke-width="0.65" fill="none"/>
<g font-family="Liberation Serif, serif" font-size="13.4" fill="#000">
<text x="49.9" y="250.65" text-anchor="end">0.00</text>
<text x="49.9" y="191.15" text-anchor="end">0.05</text>
<text x="49.9" y="131.65" text-anchor="end">0.10</text>
<text x="49.9" y="72.15" text-anchor="end">0.15</text>
<text x="49.9" y="12.65" text-anchor="end">0.20</text>
<text x="105.00" y="273.9" text-anchor="middle">1</text>
<text x="191.70" y="273.9" text-anchor="middle">2</text>
<text x="278.90" y="273.9" text-anchor="middle">3</text>
<text x="365.90" y="273.9" text-anchor="middle">4</text>
<text x="453.30" y="273.9" text-anchor="middle">5</text>
<text x="257.4" y="295" font-size="13" text-anchor="middle">a</text>
</g>
<g transform="translate(14.9,152.2) rotate(-90)" font-family="Liberation Serif, serif" fill="#000">
<path transform="translate(0.2,-0.35) scale(1,0.92)" d="M7.3,-7.3 C7.4,-8.8 6.3,-9.6 4.9,-9.6 C3.2,-9.6 2.0,-8.6 2.0,-7.4 C2.0,-6.2 3.0,-5.5 4.7,-5.4 C2.4,-5.2 0.7,-4.2 0.7,-2.6 C0.7,-0.9 2.1,0.1 4.0,0.1 C6.0,0.1 7.6,-1.0 7.9,-2.7" fill="none" stroke="#000" stroke-width="1.05" stroke-linecap="round"/>
<text x="8.4" y="-6.5" font-size="9" letter-spacing="0.4">(0)</text>
<path transform="translate(8.6,3.9)" d="M0.2,0.5 C1.2,0.6 1.8,-0.6 2.3,-2.2 L3.7,-6.6 L4.7,-0.3 L8.0,-6.6 L8.3,-1.3 C8.35,-0.3 8.8,0 9.6,-0.5" fill="none" stroke="#000" stroke-width="0.85" stroke-linejoin="round" stroke-linecap="round"/>
<text x="17.6" y="4.0" font-size="9.6" letter-spacing="0.33">.Cas.</text>
</g>
<rect x="322.65" y="7.7" width="131.3" height="77.2" fill="#fff" stroke="#000" stroke-width="1.9"/>
<g font-family="Liberation Serif, serif" font-weight="bold" font-size="11.6" fill="#000" stroke="#000" stroke-width="0.3">
<text x="326.4" y="24.0">m=1</text>
<text x="324.8" y="41.9">m=0.2</text>
<text x="324.8" y="59.9">m=0.1</text>
<text x="328.8" y="77.8">m=<tspan dx="0.8">0</tspan></text>
</g>
<g fill="none" stroke-width="2">
<path d="M356.6 20 H450.3" stroke="#0000ff" stroke-dasharray="14.1 2.3"/>
<path d="M359.1 38 H450.3" stroke="#0000ff" stroke-dasharray="10.05 2.2"/>
<path d="M359.1 56 H447.5" stroke="#0000ff" stroke-dasharray="5.95 2.15"/>
<path d="M359.1 73.5 H450.3" stroke="#cc0000" stroke-width="1.75"/>
</g>
</svg>
</body></html>
